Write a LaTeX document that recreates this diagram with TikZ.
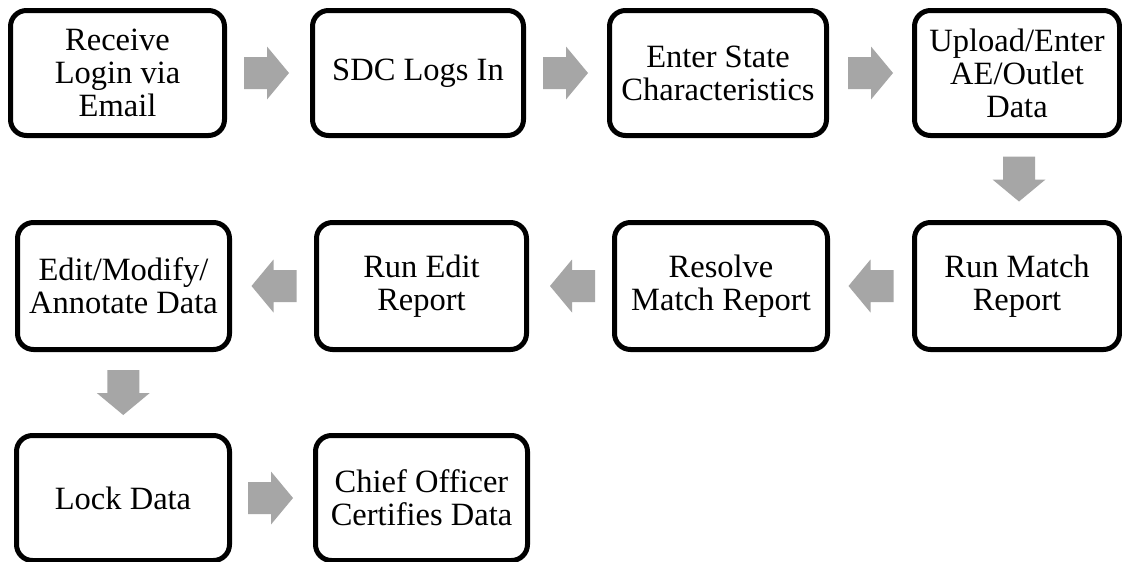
\documentclass[tikz,border=0pt]{standalone}
\usepackage{fontspec}
\setmainfont{Liberation Serif}
\usetikzlibrary{calc}
\definecolor{arrowgray}{HTML}{A6A6A6}
\tikzset{
  stepbox/.style={draw=black, line width=5pt, rounded corners=16pt, fill=white,
    align=center, inner sep=1pt, minimum height=125pt,
    font=\fontsize{32.5}{33}\selectfont},
  rarrow/.pic={\fill[arrowgray] (-22.5,-16) -- (0.5,-16) -- (0.5,-26.5) -- (22.5,0) -- (0.5,26.5) -- (0.5,16) -- (-22.5,16) -- cycle;},
  larrow/.pic={\fill[arrowgray] (22.5,-16) -- (-0.5,-16) -- (-0.5,-26.5) -- (-22.5,0) -- (-0.5,26.5) -- (-0.5,16) -- (22.5,16) -- cycle;},
  darrow/.pic={\fill[arrowgray] (-16,-22.5) -- (-16,0.5) -- (-26.5,0.5) -- (0,22.5) -- (26.5,0.5) -- (16,0.5) -- (16,-22.5) -- cycle;}
}
\begin{document}
\begin{tikzpicture}[x=1pt,y=-1pt]
\useasboundingbox (0,0) rectangle (1122,562);
\clip (0,0) rectangle (1122,562);
\fill[white] (0,0) rectangle (1122,562);
% row 1
\node[stepbox, minimum width=214pt] (n1) at (117.5,73) {Receive\\Login via\\Email};
\node[stepbox, minimum width=211pt] (n2) at (418,73) {SDC Logs In};
\node[stepbox, minimum width=217pt] (n3) at (718,73) {Enter State\\Characteristics};
\node[stepbox, minimum width=205pt] (n4) at (1017,73) {Upload/Enter\\AE/Outlet\\Data};
% row 2
\node[stepbox, minimum width=205pt, minimum height=127pt] (n5) at (1017,286) {Run Match\\Report};
\node[stepbox, minimum width=213pt, minimum height=127pt] (n6) at (721,286) {Resolve\\Match Report};
\node[stepbox, minimum width=210pt, minimum height=127pt] (n7) at (421.5,286) {Run Edit\\Report};
\node[stepbox, minimum width=212pt, minimum height=127pt] (n8) at (123.5,286) {Edit/Modify/\\Annotate Data};
% row 3
\node[stepbox, minimum width=213pt] (n9) at (123,498) {Lock Data};
\node[stepbox, minimum width=212pt] (n10) at (421.5,498) {Chief Officer\\Certifies Data};
% arrows
\pic at ($(n1.east)!0.5!(n2.west)+(-2,0)$) {rarrow};
\pic at ($(n2.east)!0.5!(n3.west)+(-1,0)$) {rarrow};
\pic at ($(n3.east)!0.5!(n4.west)$) {rarrow};
\pic at ($(n4.south)!0.5!(n5.north)+(2,0)$) {darrow};
\pic at ($(n5.west)!0.5!(n6.east)$) {larrow};
\pic at ($(n6.west)!0.5!(n7.east)+(2,0)$) {larrow};
\pic at ($(n7.west)!0.5!(n8.east)+(1,0)$) {larrow};
\pic at ($(n8.south)!0.5!(n9.north)$) {darrow};
\pic at ($(n9.east)!0.5!(n10.west)+(-2,0)$) {rarrow};
\end{tikzpicture}
\end{document}
